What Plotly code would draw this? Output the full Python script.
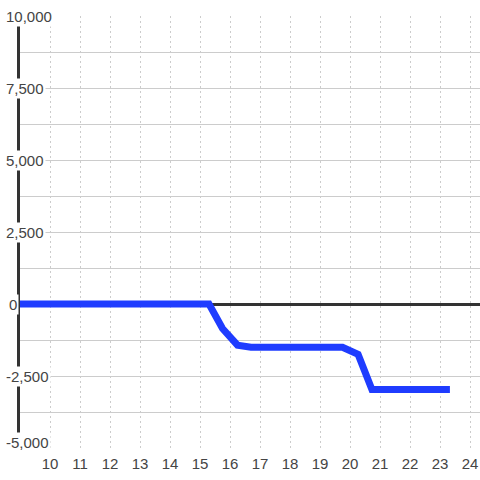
import plotly.graph_objects as go

x_vals = [8.9, 15.3, 15.75, 16.25, 16.7, 19.75, 20.27, 20.73, 23.33]
y_vals = [0, 0, -850, -1430, -1500, -1500, -1750, -2970, -2970]
x_ticks = list(range(10, 25))
y_ticks = [10000, 7500, 5000, 2500, 0, -2500, -5000]
y_labels = ["10,000", "7,500", "5,000", "2,500", "0", "-2,500", "-5,000"]

fig = go.Figure()
fig.add_trace(go.Scatter(
    x=x_vals, y=y_vals, mode="lines",
    line=dict(color="#1f3cff", width=7),
    cliponaxis=False, showlegend=False, hoverinfo="skip",
))

for v, lab in zip(y_ticks, y_labels):
    fig.add_annotation(
        x=0, xref="paper", xshift=-16 + (3 if lab == "0" else 0), xanchor="left",
        y=v, yref="y", yanchor="middle",
        yshift=6 if v == min(y_ticks) else 0,
        text=lab, showarrow=False,
        font=dict(family="Liberation Sans, Arial, sans-serif", size=15, color="#444"),
        bgcolor="#ffffff", borderpad=1,
    )

fig.update_layout(
    width=480, height=480,
    margin=dict(l=20, r=0, t=16, b=32),
    paper_bgcolor="#ffffff", plot_bgcolor="#ffffff",
    font=dict(family="Liberation Sans, Arial, sans-serif", size=15, color="#444"),
    xaxis=dict(
        range=[9, 24.333], tickvals=x_ticks,
        showgrid=True, gridcolor="#cccccc", gridwidth=1, griddash="2px,3px",
        zeroline=False, showline=False,
        ticks="outside", ticklen=2, tickcolor="rgba(0,0,0,0)",
        tickfont=dict(size=15, color="#444"),
    ),
    yaxis=dict(
        range=[-5000, 10000], dtick=1250, tick0=0,
        showgrid=True, gridcolor="#cccccc", gridwidth=1,
        zeroline=True, zerolinecolor="#333333", zerolinewidth=3,
        showline=True, linecolor="#333333", linewidth=3,
        showticklabels=False, ticks="",
        layer="below traces",
    ),
)

fig.write_html(
    "out.html",
    config={"displayModeBar": False},
    post_script="document.body.style.margin='0';document.body.style.overflow='hidden';",
)
